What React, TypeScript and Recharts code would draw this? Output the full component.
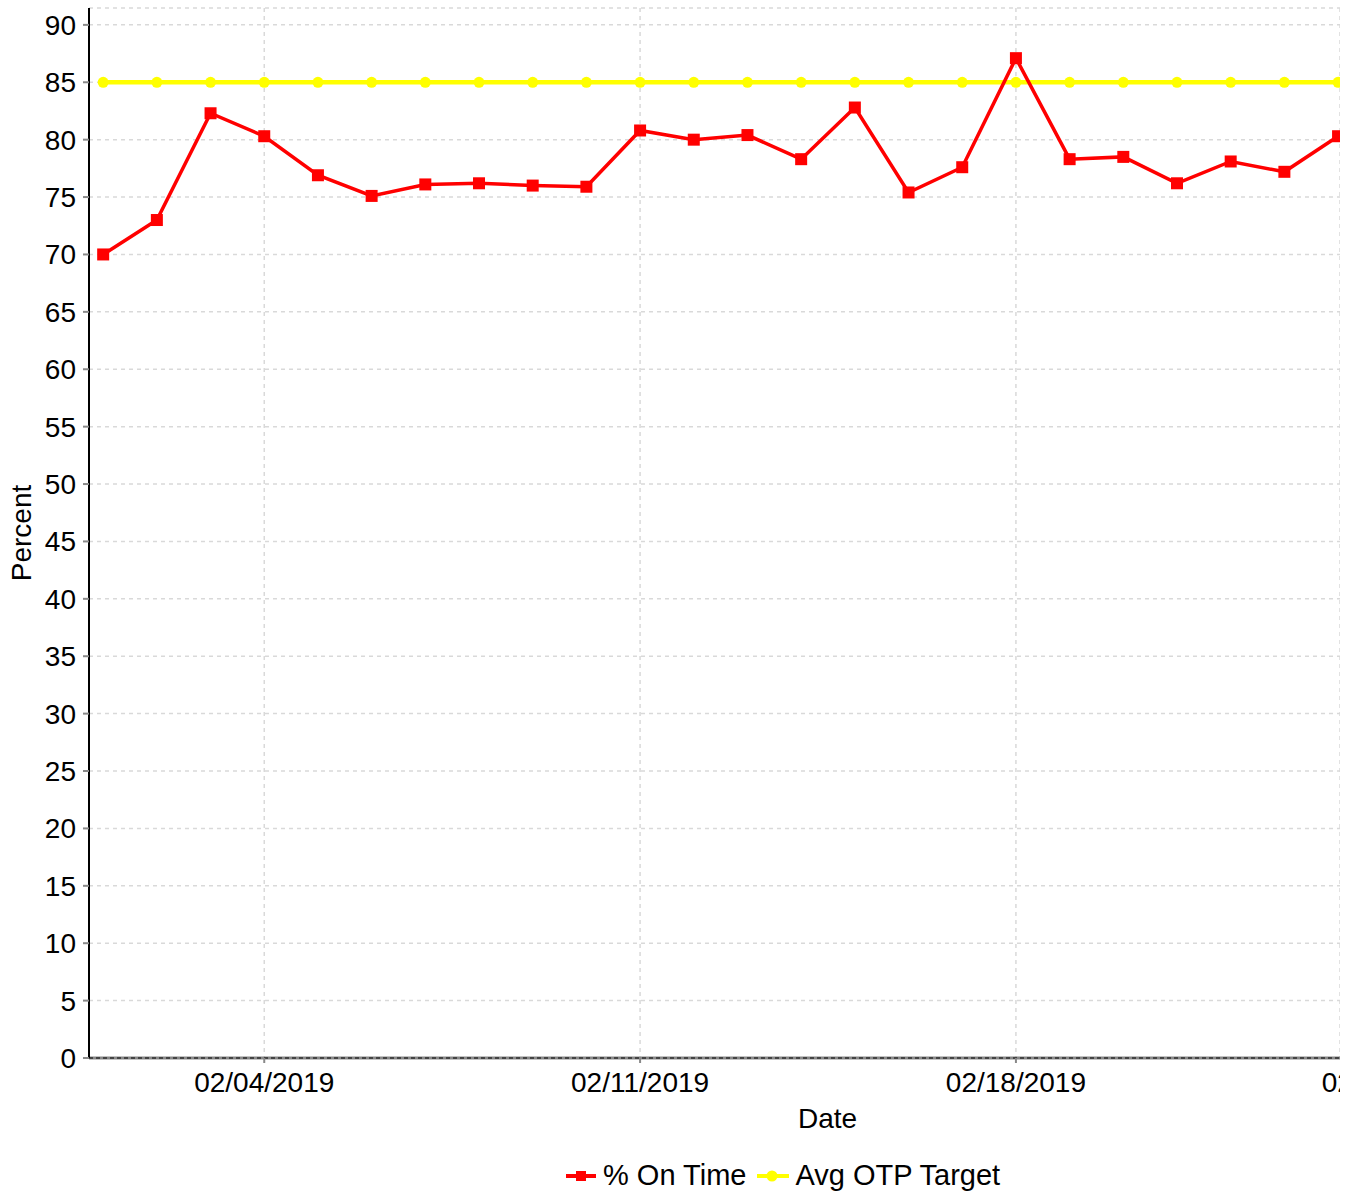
import React from 'react';
import { LineChart, Line, XAxis, YAxis, CartesianGrid, ReferenceLine, Legend } from 'recharts';

const dates = [
  '02/01/2019', '02/02/2019', '02/03/2019', '02/04/2019', '02/05/2019', '02/06/2019',
  '02/07/2019', '02/08/2019', '02/09/2019', '02/10/2019', '02/11/2019', '02/12/2019',
  '02/13/2019', '02/14/2019', '02/15/2019', '02/16/2019', '02/17/2019', '02/18/2019',
  '02/19/2019', '02/20/2019', '02/21/2019', '02/22/2019', '02/23/2019', '02/24/2019',
];

const onTimePct = [
  70.0, 73.0, 82.3, 80.3, 76.9, 75.1, 76.1, 76.2, 76.0, 75.9, 80.8, 80.0,
  80.4, 78.3, 82.8, 75.4, 77.6, 87.1, 78.3, 78.5, 76.2, 78.1, 77.2, 80.3,
];

const avgOtpTarget = [
  85, 85, 85, 85, 85, 85, 85, 85, 85, 85, 85, 85,
  85, 85, 85, 85, 85, 85, 85, 85, 85, 85, 85, 85,
];

const xTickLabels = ['02/04/2019', '02/11/2019', '02/18/2019', '02/25/2019'];
const yTicks = [0, 5, 10, 15, 20, 25, 30, 35, 40, 45, 50, 55, 60, 65, 70, 75, 80, 85, 90];

const parseDay = (s: string) => {
  const [m, d, y] = s.split('/').map(Number);
  return Date.UTC(y, m - 1, d) / 86400000;
};
const day0 = parseDay(dates[0]);
const toIndex = (s: string) => parseDay(s) - day0;

const data = dates.map((d, i) => ({
  x: toIndex(d),
  date: d,
  onTime: onTimePct[i],
  target: avgOtpTarget[i],
}));

const xTickPositions = xTickLabels.map(toIndex);
const labelByIndex: Record<number, string> = {};
xTickLabels.forEach((l) => { labelByIndex[toIndex(l)] = l; });

const FONT = '"Liberation Sans", Arial, sans-serif';
const FS = 28;
const RED = '#ff0000';
const YELLOW = '#ffff00';

const SquareDot = (props: any) => {
  const { cx, cy, index } = props;
  if (cx == null || cy == null) return <g key={`sq-${index}`} />;
  return <rect key={`sq-${index}`} x={cx - 6} y={cy - 6} width={12} height={12} fill={RED} />;
};

const LegendContent = () => (
  <div style={{ display: 'flex', alignItems: 'center', fontFamily: FONT, fontSize: 29, color: '#000', whiteSpace: 'nowrap' }}>
    <svg width={32} height={20} style={{ marginRight: 6 }}>
      <line x1={1} y1={10} x2={31} y2={10} stroke={RED} strokeWidth={4} />
      <rect x={11} y={5} width={10} height={10} fill={RED} />
    </svg>
    <span style={{ marginRight: 10 }}>% On Time</span>
    <svg width={34} height={20} style={{ marginRight: 5 }}>
      <line x1={1} y1={10} x2={33} y2={10} stroke={YELLOW} strokeWidth={4} />
      <circle cx={16} cy={10} r={5.5} fill={YELLOW} />
    </svg>
    <span>Avg OTP Target</span>
  </div>
);

export default function App() {
  return (
    <div style={{ position: 'absolute', left: 0, top: 0, width: 1357, height: 1193, background: '#fff' }}>
      <LineChart
        width={1340}
        height={1193}
        data={data}
        margin={{ top: 8, right: 0, left: 0, bottom: 0 }}
        style={{ fontFamily: FONT }}
      >
        <CartesianGrid stroke="#d9d9d9" strokeDasharray="4 4" strokeWidth={1.5} />
        <XAxis
          dataKey="x"
          type="number"
          domain={[-0.264, 23.036]}
          allowDataOverflow
          ticks={xTickPositions}
          interval={0}
          tickFormatter={(v: number) => labelByIndex[v] ?? ''}
          height={135}
          tickSize={5}
          tickMargin={9}
          axisLine={false}
          tickLine={{ stroke: '#888', strokeWidth: 2 }}
          tick={{ fill: '#000', fontSize: FS, fontFamily: FONT }}
          label={{ value: 'Date', position: 'insideTop', offset: 50, dx: 113, fill: '#000', fontSize: FS, fontFamily: FONT }}
        />
        <YAxis
          type="number"
          domain={[0, 91.47]}
          allowDataOverflow
          ticks={yTicks}
          interval={0}
          width={89}
          tickSize={6}
          tickMargin={7}
          axisLine={{ stroke: '#000', strokeWidth: 2 }}
          tickLine={{ stroke: '#888', strokeWidth: 2 }}
          tick={{ fill: '#000', fontSize: FS, fontFamily: FONT }}
          label={{ value: 'Percent', angle: -90, position: 'insideLeft', offset: 21, fill: '#000', fontSize: FS, fontFamily: FONT, style: { textAnchor: 'middle' } }}
        />
        <ReferenceLine y={0} stroke="#888" strokeWidth={3} />
        <ReferenceLine y={0} stroke="#000" strokeDasharray="4 3" strokeWidth={1} />
        <Line
          type="linear"
          dataKey="target"
          name="Avg OTP Target"
          stroke={YELLOW}
          strokeWidth={4.5}
          dot={{ r: 5.5, fill: YELLOW, stroke: 'none' }}
          activeDot={false}
          isAnimationActive={false}
        />
        <Line
          type="linear"
          dataKey="onTime"
          name="% On Time"
          stroke={RED}
          strokeWidth={3.5}
          dot={SquareDot}
          activeDot={false}
          isAnimationActive={false}
        />
        <Legend
          layout="horizontal"
          verticalAlign="middle"
          align="center"
          content={LegendContent}
          wrapperStyle={{ position: 'absolute', left: 565, top: 1159, width: 480, height: 34 }}
        />
      </LineChart>
    </div>
  );
}
